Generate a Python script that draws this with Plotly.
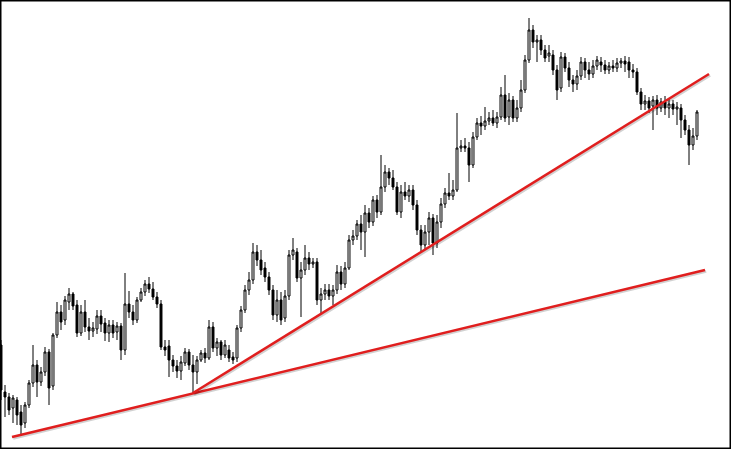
import plotly.graph_objects as go

# Candle index (time) and OHLC prices (arbitrary price units)
open_ = [105, 58, 53, 42, 50, 38, 27, 45, 67, 85, 68, 78, 98, 64, 115, 138, 130, 148, 156, 145,
         117, 138, 123, 119, 121, 134, 127, 117, 125, 118, 124, 100, 146, 138, 130, 150, 158, 166, 161, 153,
         146, 103, 104, 90, 84, 79, 87, 98, 85, 78, 90, 97, 92, 123, 102, 108, 95, 100, 93, 92,
         122, 140, 160, 170, 198, 190, 182, 173, 160, 135, 150, 132, 154, 195, 198, 172, 180, 192, 186, 188,
         150, 156, 160, 154, 160, 178, 166, 182, 210, 214, 226, 218, 237, 228, 250, 238, 263, 278, 272, 263,
         238, 258, 254, 260, 245, 220, 205, 218, 232, 207, 228, 246, 257, 254, 260, 302, 304, 302, 285, 313,
         327, 324, 329, 332, 327, 333, 355, 333, 350, 332, 342, 360, 390, 420, 408, 410, 400, 394, 395, 380,
         362, 393, 382, 370, 366, 374, 388, 380, 376, 384, 388, 385, 380, 384, 382, 387, 389, 388, 380, 378,
         358, 346, 349, 344, 350, 342, 348, 342, 346, 341, 342, 330, 320, 305, 314]
high = [110, 65, 57, 55, 53, 45, 48, 70, 105, 90, 83, 103, 101, 117, 148, 145, 154, 162, 158, 150,
        145, 150, 132, 128, 140, 140, 132, 130, 130, 128, 127, 177, 159, 145, 153, 162, 170, 173, 168, 158,
        150, 110, 110, 95, 90, 94, 102, 101, 95, 94, 100, 102, 130, 128, 112, 110, 110, 105, 98, 125,
        144, 165, 178, 207, 205, 200, 188, 178, 165, 160, 158, 160, 200, 212, 202, 188, 205, 198, 192, 192,
        162, 166, 166, 165, 185, 184, 188, 215, 220, 230, 235, 245, 242, 254, 255, 295, 285, 282, 280, 268,
        265, 268, 265, 265, 250, 225, 225, 238, 236, 235, 252, 262, 277, 270, 337, 310, 312, 308, 318, 332,
        334, 343, 338, 340, 338, 363, 375, 357, 354, 350, 370, 395, 432, 425, 415, 415, 405, 405, 400, 385,
        398, 397, 388, 375, 380, 393, 392, 388, 390, 394, 393, 390, 388, 390, 392, 392, 394, 393, 386, 382,
        362, 355, 353, 354, 355, 352, 354, 352, 350, 348, 346, 335, 325, 322, 340]
low = [50, 33, 35, 27, 25, 16, 22, 42, 63, 53, 64, 74, 45, 60, 112, 120, 125, 140, 140, 113,
       114, 118, 110, 113, 116, 118, 109, 108, 112, 110, 90, 95, 132, 125, 127, 148, 154, 157, 150, 142,
       100, 94, 73, 78, 72, 70, 84, 80, 57, 66, 88, 87, 90, 98, 94, 90, 92, 88, 86, 88,
       118, 137, 155, 166, 184, 175, 168, 155, 130, 128, 125, 128, 150, 190, 168, 133, 175, 180, 182, 145,
       137, 150, 150, 145, 156, 160, 162, 180, 205, 210, 200, 193, 222, 224, 232, 235, 258, 265, 260, 235,
       232, 250, 248, 240, 215, 198, 200, 205, 195, 202, 222, 242, 250, 250, 258, 298, 298, 268, 282, 310,
       315, 320, 325, 324, 322, 330, 328, 325, 328, 328, 338, 357, 387, 402, 388, 395, 388, 388, 375, 350,
       358, 378, 363, 358, 360, 370, 372, 370, 372, 380, 378, 376, 376, 378, 378, 382, 378, 372, 372, 355,
       340, 340, 337, 320, 335, 338, 335, 332, 335, 325, 312, 315, 285, 300, 310]
close = [60, 53, 40, 52, 35, 25, 45, 67, 85, 68, 78, 98, 62, 115, 138, 128, 150, 156, 144, 117,
         138, 123, 119, 122, 134, 126, 117, 125, 117, 124, 100, 146, 138, 130, 150, 158, 166, 161, 153, 146,
         103, 100, 90, 84, 79, 88, 98, 85, 78, 90, 97, 92, 123, 102, 108, 95, 105, 92, 90, 122,
         140, 160, 170, 198, 190, 180, 173, 160, 135, 150, 130, 154, 195, 200, 172, 180, 192, 186, 188, 150,
         156, 160, 154, 160, 178, 166, 182, 210, 214, 226, 218, 237, 228, 250, 238, 263, 278, 272, 263, 238,
         258, 254, 260, 245, 220, 205, 218, 232, 207, 228, 246, 257, 254, 260, 302, 304, 302, 285, 313, 327,
         324, 329, 332, 327, 333, 355, 332, 350, 332, 342, 360, 390, 420, 408, 410, 400, 392, 397, 380, 360,
         393, 382, 370, 366, 374, 388, 380, 376, 384, 390, 385, 380, 384, 382, 387, 389, 386, 380, 378, 358,
         346, 349, 342, 350, 342, 348, 342, 346, 341, 343, 330, 320, 305, 314, 338]
bars = list(range(len(close)))

# Two hand-drawn trend lines (bar index, price)
trend1_x = [2.75, 176.0]
trend1_y = [13, 180]
trend2_x = [48.0, 177.0]
trend2_y = [57, 376]

fig = go.Figure()
fig.add_trace(go.Candlestick(
    x=bars, open=open_, high=high, low=low, close=close,
    increasing=dict(line=dict(color="#000000", width=1), fillcolor="#ffffff"),
    decreasing=dict(line=dict(color="#000000", width=1), fillcolor="#000000"),
    whiskerwidth=0, showlegend=False, hoverinfo="skip",
))
for tx, ty in ((trend1_x, trend1_y), (trend2_x, trend2_y)):
    fig.add_trace(go.Scatter(x=[v + 0.3 for v in tx], y=[v - 1.5 for v in ty], mode="lines",
                             line=dict(color="rgba(0,0,0,0.18)", width=2.5),
                             showlegend=False, hoverinfo="skip"))
    fig.add_trace(go.Scatter(x=tx, y=ty, mode="lines",
                             line=dict(color="#e01e1e", width=2.5),
                             showlegend=False, hoverinfo="skip"))

fig.update_layout(
    width=731, height=449,
    margin=dict(l=0, r=0, t=0, b=0),
    paper_bgcolor="#ffffff", plot_bgcolor="#ffffff",
    xaxis=dict(range=[-0.25, 182.5], visible=False, rangeslider=dict(visible=False),
               showgrid=False, zeroline=False),
    yaxis=dict(range=[1, 450], visible=False, showgrid=False, zeroline=False),
    shapes=[dict(type="rect", xref="paper", yref="paper", x0=0, x1=1, y0=0, y1=1,
                 line=dict(color="#000000", width=3), fillcolor="rgba(0,0,0,0)")],
)
fig.write_html("out.html", config={"displayModeBar": False},
               post_script="document.body.style.margin='0';document.body.style.overflow='hidden';")
